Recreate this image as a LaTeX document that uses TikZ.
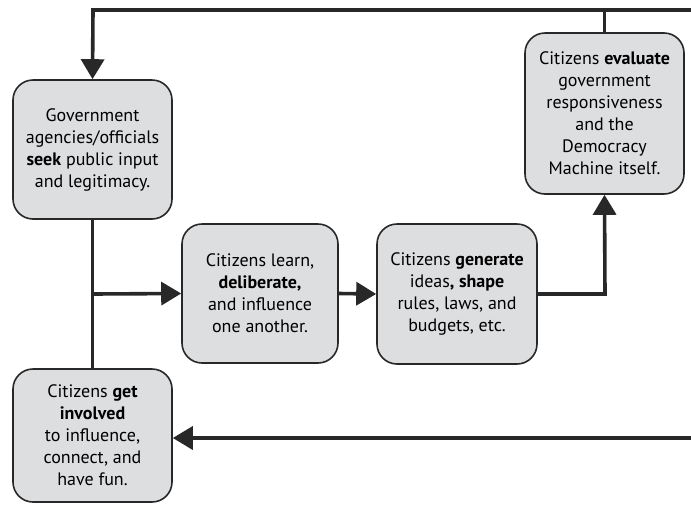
\documentclass[tikz,border=0pt]{standalone}
\usepackage{fontspec}
\setmainfont{PT Sans}
\usetikzlibrary{arrows.meta}
\definecolor{boxfill}{RGB}{221,222,224}
\definecolor{boxline}{RGB}{40,40,40}
\tikzset{
  stepbox/.style={draw=boxline, line width=1.6pt, fill=boxfill, rounded corners=20pt,
    align=center, inner sep=0pt, font=\fontsize{18}{22}\selectfont},
  conn/.style={draw=boxline, line width=3.6pt},
  tipped/.style={conn, -{Triangle[length=20pt,width=23pt]}}
}
\begin{document}
\begin{tikzpicture}[x=1pt,y=-1pt]
\useasboundingbox (0,0) rectangle (691,504);
\node[stepbox, minimum width=159pt, minimum height=139pt] (gov) at (92.5,149.5)
  {Government\\agencies/officials\\\textbf{seek} public input\\and legitimacy.};
\node[stepbox, minimum width=156pt, minimum height=139pt] (delib) at (260,293.5)
  {Citizens learn,\\\textbf{deliberate,}\\and influence\\one another.};
\node[stepbox, minimum width=160pt, minimum height=140pt] (gen) at (457,294)
  {Citizens \textbf{generate}\\ideas\textbf{, shape}\\rules, laws, and\\budgets, etc.};
\node[stepbox, minimum width=159pt, minimum height=161pt] (eval) at (604.5,113.5)
  {Citizens \textbf{evaluate}\\government\\responsiveness\\and the\\Democracy\\Machine itself.};
\node[stepbox, minimum width=159pt, minimum height=133pt] (get) at (92.5,435.5)
  {Citizens \textbf{get}\\\textbf{involved}\\to influence,\\connect, and\\have fun.};
\coordinate (topR) at (692,10);
\coordinate (topL) at (93,10);
\coordinate (botR) at (692,438);
\coordinate (branch) at (93,294);
\coordinate (genR) at (605,294);
\draw[tipped] (topR) -- (topL) -- (gov.north);
\draw[conn] (eval.north) -- (eval.north |- topL);
\draw[conn] (gov.south) -- (get.north);
\draw[tipped] (branch) -- (delib.west);
\draw[tipped] (delib.east) -- (gen.west);
\draw[tipped] (gen.east) -- (genR) -- (eval.south);
\draw[tipped] (botR) -- (get.east |- botR);
\end{tikzpicture}
\end{document}
